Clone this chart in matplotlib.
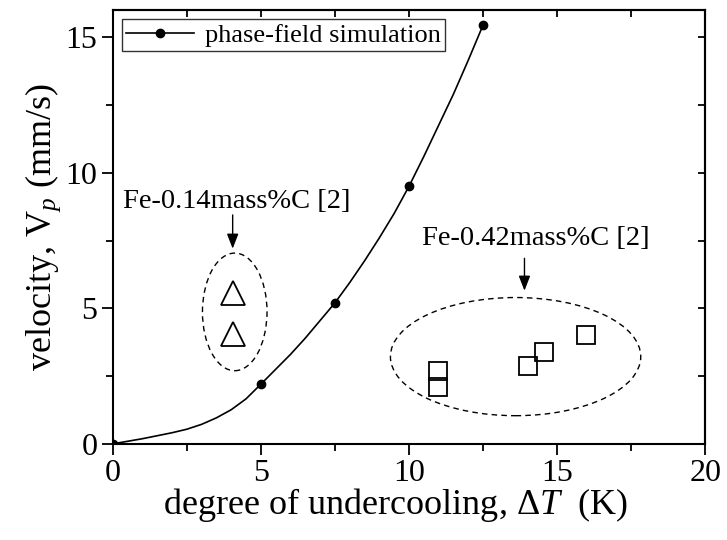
import matplotlib
matplotlib.use('Agg')
import matplotlib.pyplot as plt
from matplotlib.patches import Ellipse
from matplotlib.ticker import MultipleLocator

plt.rcParams['font.family'] = ['Liberation Serif', 'DejaVu Serif']
plt.rcParams['mathtext.fontset'] = 'custom'
plt.rcParams['mathtext.rm'] = 'Liberation Serif'
plt.rcParams['mathtext.it'] = 'Liberation Serif:italic'

# --- dados da simulação phase-field ---
sim_dT = [0, 5, 7.5, 10, 12.5]
sim_v = [0.0, 2.2, 5.2, 9.5, 15.45]

# curva
curve_dT = [0, 1, 2, 2.5, 3, 3.5, 4, 4.5, 5, 5.5, 6, 6.5, 7, 7.5,
            8, 8.5, 9, 9.5, 10, 10.5, 11, 11.5, 12, 12.5]
curve_v = [0.0, 0.19, 0.41, 0.54, 0.72, 0.96, 1.26, 1.66, 2.2, 2.75, 3.3, 3.9, 4.55, 5.2,
           5.95, 6.75, 7.6, 8.5, 9.5, 10.6, 11.75, 12.9, 14.15, 15.45]

# --- experimentos ---
fe014_dT = [4.05, 4.05]
fe014_v = [5.55, 4.05]

fe042_dT = [10.97, 10.97, 14.03, 14.57, 15.96]
fe042_v = [2.1, 2.69, 2.87, 3.39, 4.0]

fig = plt.figure(figsize=(7.27, 5.4), dpi=100)
ax = fig.add_axes([0.155, 0.178, 0.815, 0.803])

ax.plot(curve_dT, curve_v, color='k', linewidth=1.2)
ax.plot(sim_dT, sim_v, linestyle='none', marker='o', color='k', markersize=6)
# linha da legenda
ax.plot([], [], color='k', linewidth=1.2, marker='o', markersize=6,
        label='phase-field simulation')

ax.plot(fe014_dT, fe014_v, linestyle='none', marker='^', markersize=17,
        markerfacecolor='white', markeredgecolor='k', markeredgewidth=1.3)
ax.plot(fe042_dT, fe042_v, linestyle='none', marker='s', markersize=13,
        markerfacecolor='none', markeredgecolor='k', markeredgewidth=1.3)

# elipses tracejadas
ax.add_patch(Ellipse((4.12, 4.87), 2.18, 4.34, fill=False, edgecolor='k',
                     linestyle=(0, (4, 3)), linewidth=1.0))
ax.add_patch(Ellipse((13.6, 3.22), 8.45, 4.36, fill=False, edgecolor='k',
                     linestyle=(0, (4, 3)), linewidth=1.0))

# textos e setas
arrow_style = dict(arrowstyle='-|>,head_width=0.35,head_length=0.9', color='k', lw=1.0)
ax.annotate('', xy=(4.05, 7.1), xytext=(4.05, 8.55), arrowprops=arrow_style)
ax.text(4.18, 8.72, 'Fe-0.14mass%C [2]', ha='center', va='baseline', fontsize=20.5)

ax.annotate('', xy=(13.9, 5.55), xytext=(13.9, 6.95), arrowprops=arrow_style)
ax.text(14.28, 7.35, 'Fe-0.42mass%C [2]', ha='center', va='baseline', fontsize=20.5)

ax.set_xlim(0, 20)
ax.set_ylim(0, 16)
ax.xaxis.set_major_locator(MultipleLocator(5))
ax.xaxis.set_minor_locator(MultipleLocator(2.5))
ax.yaxis.set_major_locator(MultipleLocator(5))
ax.yaxis.set_minor_locator(MultipleLocator(2.5))

ax.tick_params(axis='both', which='both', direction='out', top=False, right=False,
               labelsize=23, width=1.3)
ax.tick_params(which='major', length=8, pad=3)
ax.tick_params(which='minor', length=5)
sec_x = ax.secondary_xaxis('top')
sec_x.set_xticks([2.5, 5, 7.5, 10, 12.5, 15, 17.5])
sec_x.tick_params(direction='in', length=5, width=1.3, labeltop=False)
sec_y = ax.secondary_yaxis('right')
sec_y.set_yticks([2.5, 5, 7.5, 10, 12.5, 15])
sec_y.tick_params(direction='in', length=5, width=1.3, labelright=False)
for s in list(ax.spines.values()) + [sec_x.spines['top'], sec_y.spines['right']]:
    s.set_linewidth(1.5)

ax.set_xlabel(r'degree of undercooling, $\Delta T$  (K)', fontsize=26)
ax.xaxis.set_label_coords(0.477, -0.098)
ax.set_ylabel(r'velocity, V$_{p}$ (mm/s)', fontsize=26, labelpad=2)

leg = ax.legend(loc='upper left', fontsize=19, frameon=True, fancybox=False,
                borderpad=0.15, handlelength=2.6, handletextpad=0.4,
                borderaxespad=0.35)
leg.get_frame().set_edgecolor('k')
leg.get_frame().set_linewidth(1.0)

fig.savefig('out.png', dpi=100)
